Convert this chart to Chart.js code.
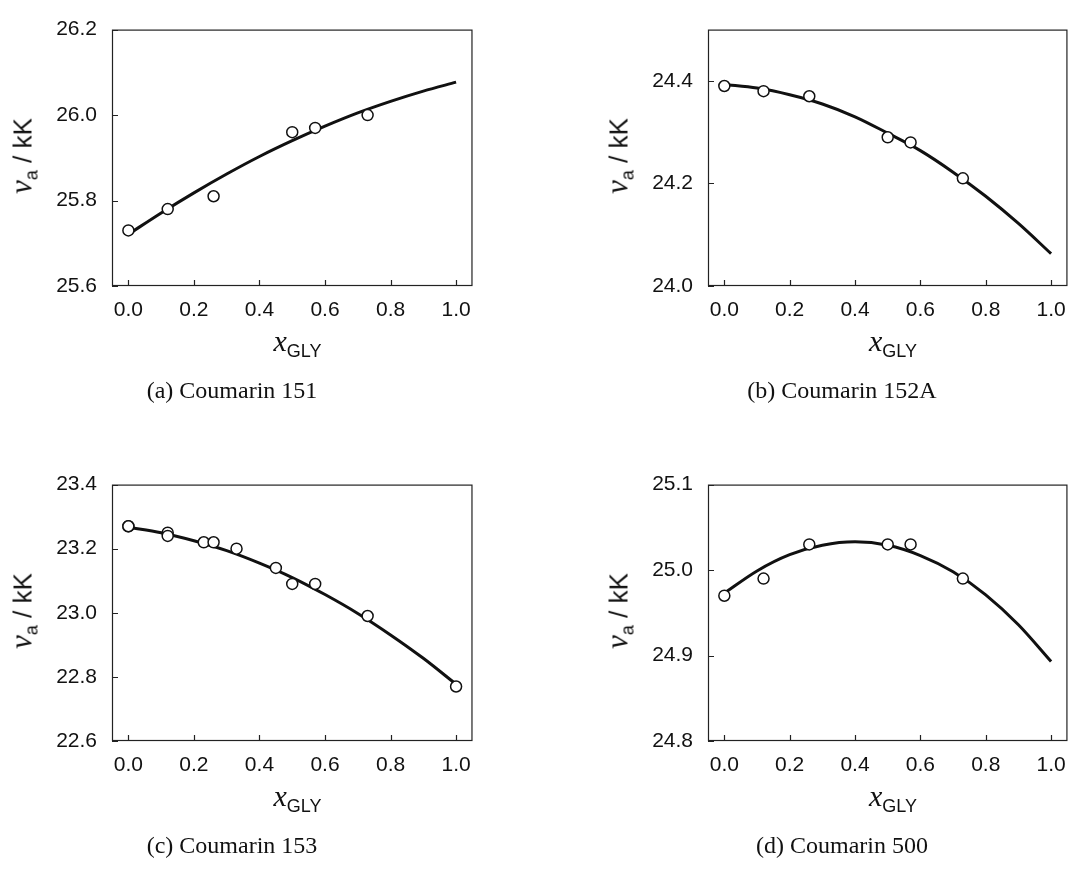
<!DOCTYPE html>
<html>
<head>
<meta charset="utf-8">
<script src="https://cdn.jsdelivr.net/npm/chart.js@4.4.1/dist/chart.umd.min.js"></script>
<style>
  body { margin: 0; background: #fff; }
  #page { position: relative; width: 1078px; height: 878px; overflow: hidden; background: #fff; }
  .box { position: absolute; }
  .ylab, .xlab, .cap { position: absolute; white-space: nowrap; color: #111; }
  .ylab { transform: translate(-50%, -50%) rotate(-90deg); font-family: "Liberation Sans", sans-serif; font-size: 26px; }
  .ylab .mi { font-size: 31px; }
  .ylab sub { font-size: 18px; vertical-align: -6px; }
  .xlab { transform: translate(-50%, -50%); font-family: "Liberation Sans", sans-serif; font-size: 18px; }
  .cap { transform: translate(-50%, -50%); font-family: "Liberation Serif", serif; font-size: 24px; }
  .mi { font-family: "Liberation Serif", serif; font-style: italic; font-size: 30px; }
  sub { font-size: 18px; vertical-align: -6px; }
</style>
</head>
<body>
<div id="page"></div>
<script>
// shared x values
const xTicks = [0.0, 0.2, 0.4, 0.6, 0.8, 1.0];
const fitX = [0.0, 0.1, 0.2, 0.3, 0.4, 0.5, 0.6, 0.7, 0.8, 0.9, 1.0];

// (a) Coumarin 151
const c151X = [0.0, 0.12, 0.26, 0.50, 0.57, 0.73];
const c151Y = [25.73, 25.78, 25.81, 25.96, 25.97, 26.00];
const c151Fit = [25.721, 25.771, 25.818, 25.862, 25.903, 25.940, 25.974, 26.005, 26.032, 26.056, 26.077];
const c151Ticks = [25.6, 25.8, 26.0, 26.2];

// (b) Coumarin 152A
const c152aX = [0.0, 0.12, 0.26, 0.50, 0.57, 0.73];
const c152aY = [24.39, 24.38, 24.37, 24.29, 24.28, 24.21];
const c152aFit = [24.393, 24.386, 24.373, 24.355, 24.330, 24.298, 24.264, 24.222, 24.175, 24.122, 24.063];
const c152aTicks = [24.0, 24.2, 24.4];

// (c) Coumarin 153
const c153X = [0.0, 0.0, 0.12, 0.12, 0.23, 0.26, 0.33, 0.45, 0.50, 0.57, 0.73, 1.0];
const c153Y = [23.27, 23.27, 23.25, 23.24, 23.22, 23.22, 23.20, 23.14, 23.09, 23.09, 22.99, 22.77];
const c153Fit = [23.267, 23.250, 23.225, 23.194, 23.155, 23.110, 23.057, 22.998, 22.931, 22.858, 22.777];
const c153Ticks = [22.6, 22.8, 23.0, 23.2, 23.4];

// (d) Coumarin 500
const c500X = [0.0, 0.12, 0.26, 0.50, 0.57, 0.73];
const c500Y = [24.97, 24.99, 25.03, 25.03, 25.03, 24.99];
const c500Fit = [24.973, 24.999, 25.018, 25.029, 25.033, 25.029, 25.017, 24.998, 24.971, 24.936, 24.893];
const c500Ticks = [24.8, 24.9, 25.0, 25.1];

const panels = [
  { caption: "(a) Coumarin 151", capX: 232, box: [112, 22, 481, 286], yMin: 25.6, yMax: 26.2, yTicks: c151Ticks, px: c151X, py: c151Y, fit: c151Fit },
  { caption: "(b) Coumarin 152A", capX: 842, box: [708, 22, 1076, 286], yMin: 24.0, yMax: 24.5, yTicks: c152aTicks, px: c152aX, py: c152aY, fit: c152aFit },
  { caption: "(c) Coumarin 153", capX: 232, box: [112, 477, 481, 741], yMin: 22.6, yMax: 23.4, yTicks: c153Ticks, px: c153X, py: c153Y, fit: c153Fit },
  { caption: "(d) Coumarin 500", capX: 842, box: [708, 477, 1076, 741], yMin: 24.8, yMax: 25.1, yTicks: c500Ticks, px: c500X, py: c500Y, fit: c500Fit }
];

const INK = "#111";
const LEFT = 112, TOP = 20, RIGHT = 2, BOTTOM = 45;

// frame round the plot area + short inward ticks on bottom and left
const frame = {
  id: "frame",
  afterDatasetsDraw(chart) {
    const { ctx, chartArea: a, scales } = chart;
    ctx.save();
    ctx.strokeStyle = "#222";
    ctx.lineWidth = 1.2;
    ctx.strokeRect(a.left + 0.5, a.top + 0.5, a.right - a.left - 1, a.bottom - a.top - 1);
    ctx.beginPath();
    scales.x.ticks.forEach(t => {
      const p = Math.round(scales.x.getPixelForValue(t.value)) + 0.5;
      ctx.moveTo(p, a.bottom);
      ctx.lineTo(p, a.bottom - 6);
    });
    scales.y.ticks.forEach(t => {
      const p = Math.round(scales.y.getPixelForValue(t.value)) + 0.5;
      ctx.moveTo(a.left, p);
      ctx.lineTo(a.left + 6, p);
    });
    ctx.stroke();
    ctx.restore();
  }
};

const page = document.getElementById("page");

panels.forEach(p => {
  const [l, t, r, b] = p.box;
  const w = r - l + LEFT + RIGHT;
  const h = b - t + TOP + BOTTOM;

  const holder = document.createElement("div");
  holder.className = "box";
  holder.style.left = (l - LEFT) + "px";
  holder.style.top = (t - TOP) + "px";
  const cv = document.createElement("canvas");
  cv.width = w;
  cv.height = h;
  holder.appendChild(cv);
  page.appendChild(holder);

  new Chart(cv.getContext("2d"), {
    type: "scatter",
    data: {
      datasets: [
        {
          data: p.px.map((x, i) => ({ x: x, y: p.py[i] })),
          showLine: false,
          pointRadius: 5.5,
          pointBorderWidth: 1.5,
          pointBackgroundColor: "#fff",
          pointBorderColor: INK
        },
        {
          data: fitX.map((x, i) => ({ x: x, y: p.fit[i] })),
          showLine: true,
          borderColor: INK,
          borderWidth: 3,
          pointRadius: 0,
          cubicInterpolationMode: "monotone"
        }
      ]
    },
    plugins: [frame],
    options: {
      responsive: false,
      animation: false,
      layout: { padding: { left: 0, top: TOP, right: RIGHT, bottom: 0 } },
      plugins: { legend: { display: false }, tooltip: { enabled: false } },
      scales: {
        x: {
          type: "linear",
          min: -0.05,
          max: 1.05,
          afterBuildTicks: s => { s.ticks = xTicks.map(v => ({ value: v })); },
          afterFit: s => { s.height = BOTTOM; },
          grid: { display: false, drawTicks: false },
          border: { display: false },
          ticks: {
            padding: 12,
            color: INK,
            font: { family: "Liberation Sans", size: 21 },
            callback: v => v.toFixed(1)
          }
        },
        y: {
          type: "linear",
          min: p.yMin,
          max: p.yMax,
          afterBuildTicks: s => { s.ticks = p.yTicks.map(v => ({ value: v })); },
          afterFit: s => { s.width = LEFT; },
          grid: { display: false, drawTicks: false },
          border: { display: false },
          ticks: {
            padding: 15,
            color: INK,
            font: { family: "Liberation Sans", size: 21 },
            callback: v => v.toFixed(1)
          }
        }
      }
    }
  });

  const ylab = document.createElement("div");
  ylab.className = "ylab";
  ylab.style.left = (l - 89) + "px";
  ylab.style.top = ((t + b) / 2 + 2) + "px";
  ylab.innerHTML = '<span class="mi">ν</span><sub>a</sub>&nbsp;/&nbsp;kK';
  page.appendChild(ylab);

  const xlab = document.createElement("div");
  xlab.className = "xlab";
  xlab.style.left = ((l + r) / 2 + 1) + "px";
  xlab.style.top = (b + 57) + "px";
  xlab.innerHTML = '<span class="mi">x</span><sub>GLY</sub>';
  page.appendChild(xlab);

  const cap = document.createElement("div");
  cap.className = "cap";
  cap.style.left = p.capX + "px";
  cap.style.top = (b + 104) + "px";
  cap.textContent = p.caption;
  page.appendChild(cap);
});
</script>
</body>
</html>
